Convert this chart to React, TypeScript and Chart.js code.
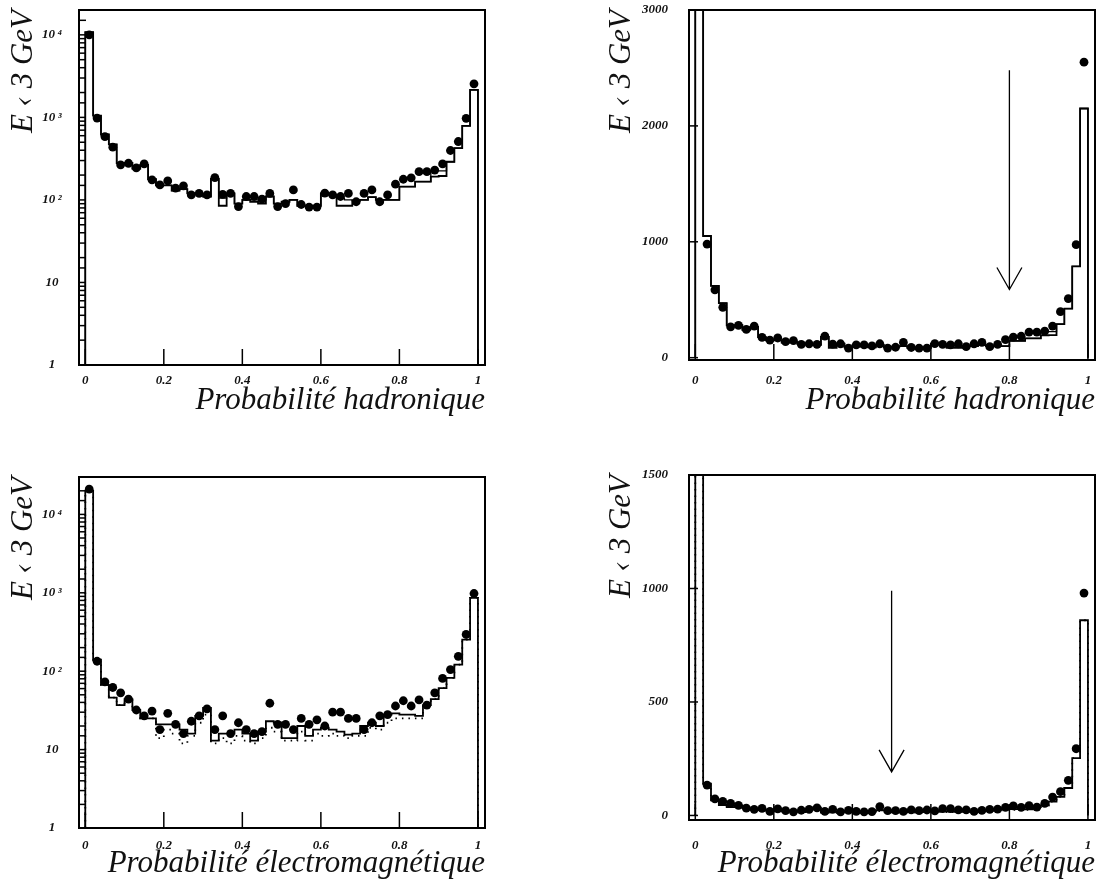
import React, { useEffect, useRef } from 'react';
import { Chart, registerables } from 'chart.js';

Chart.register(...registerables);

// ---------- data ----------
const BIN_WIDTH = 0.02;
const binLowEdges: number[] = Array.from({ length: 50 }, (_, i) => +(i * BIN_WIDTH).toFixed(2));

// Hadronic probability, E < 3 GeV : data points (dots)
const hadData = [
  10000, 980, 586, 435, 266, 278, 244, 273, 175, 152,
  170, 139, 148, 115, 120, 115, 186, 117, 120, 83,
  110, 110, 102, 120, 83, 90, 132, 88, 82, 82,
  121, 115, 110, 120, 95, 120, 132, 95, 115, 155,
  178, 185, 220, 220, 230, 273, 397, 510, 975, 2550,
];
// Hadronic probability : simulation histogram
const hadMC = [
  10800, 1050, 620, 470, 280, 280, 240, 265, 178, 150,
  150, 130, 135, 120, 118, 110, 180, 85, 120, 90,
  100, 95, 90, 110, 90, 95, 100, 85, 85, 85,
  120, 115, 85, 85, 98, 100, 108, 100, 100, 100,
  145, 145, 167, 167, 192, 195, 290, 424, 788, 2150,
];
// Hadronic probability : second simulation histogram
const hadMC2 = [
  10800, 1050, 620, 470, 280, 280, 240, 265, 178, 150,
  150, 130, 135, 120, 118, 110, 180, 105, 120, 90,
  100, 100, 100, 110, 90, 95, 100, 85, 85, 85,
  120, 115, 105, 100, 98, 100, 108, 100, 100, 100,
  145, 145, 167, 167, 225, 225, 290, 424, 788, 2150,
];

// Electromagnetic probability, E < 3 GeV : data points
const emData = [
  21000, 134, 73, 62, 53, 44, 32, 27, 31, 18,
  29, 21, 16, 23, 27, 33, 18, 27, 16, 22,
  18, 16, 17, 39, 21, 21, 18, 25, 21, 24,
  20, 30, 30, 25, 25, 18, 22, 27, 28, 36,
  42, 36, 43, 37, 53, 81, 105, 155, 294, 980,
];
// Electromagnetic probability : simulation histogram (solid)
const emMC = [
  20000, 140, 67, 46, 37, 44, 32, 25, 25, 21,
  21, 21, 18, 16, 27, 34, 13, 16, 16, 18,
  16, 13, 17, 23, 22, 14, 14, 20, 15, 18,
  19, 18, 17, 15.5, 16, 20, 22, 20, 28, 29,
  28, 28, 27, 37, 44, 61, 82, 121, 253, 860,
];
// Electromagnetic probability : second simulation histogram (dotted)
const emMCdot = [
  20000, 140, 67, 46, 37, 44, 32, 25, 25, 14,
  18, 16, 12, 15, 22, 28, 12, 14, 12, 15,
  13, 12, 14, 19, 17, 13, 13, 17, 13, 16,
  15, 16, 15, 14, 15, 15, 19, 18, 22, 25,
  25, 25, 25, 37, 44, 61, 82, 121, 253, 860,
];

const xTickValues = [0, 0.2, 0.4, 0.6, 0.8, 1];
const hadLinTicks = [0, 1000, 2000, 3000];
const emLinTicks = [0, 500, 1000, 1500];
const logRange = [1, 20000];
const logRangeEm = [1, 30000];
const hadLinRange = [-20, 3000];
const emLinRange = [-20, 1500];
const xRange = [-0.016, 1.018];

// arrows: [x, from y, to y]
const hadArrow = [0.8, 2480, 588];
const emArrow = [0.5, 990, 192];

const titleHad = 'Probabilité hadronique';
const titleEm = 'Probabilité électromagnétique';
const yTitle = 'E ‹ 3 GeV';

// ---------- helpers ----------
const SERIF = "'Liberation Serif', 'Times New Roman', serif";
const supDigits: Record<number, string> = { 2: '²', 3: '³', 4: '⁴', 5: '⁵' };

function histPoints(vals: number[], floor: number) {
  const pts: { x: number; y: number }[] = [{ x: 0, y: floor }];
  vals.forEach((v, i) => pts.push({ x: binLowEdges[i], y: v }));
  pts.push({ x: 1, y: vals[vals.length - 1] });
  pts.push({ x: 1, y: floor });
  return pts;
}
function dotPoints(vals: number[]) {
  return vals.map((v, i) => ({ x: binLowEdges[i] + BIN_WIDTH / 2, y: v }));
}

const framePlugin = {
  id: 'frame',
  afterDatasetsDraw(chart: any, _args: any, opts: any) {
    const { ctx, chartArea: a, scales } = chart;
    ctx.save();
    ctx.strokeStyle = '#000';
    ctx.lineWidth = 1.5;
    const ys = scales.y;
    ys.ticks.forEach((t: any) => {
      const py = ys.getPixelForValue(t.value);
      if (py < a.top - 0.5 || py > a.bottom + 0.5) return;
      ctx.beginPath();
      ctx.moveTo(a.left, py);
      ctx.lineTo(a.left + opts.yTickLen, py);
      ctx.stroke();
    });
    const xs = scales.x;
    xs.ticks.forEach((t: any) => {
      const px = xs.getPixelForValue(t.value);
      ctx.beginPath();
      ctx.moveTo(px, a.bottom);
      ctx.lineTo(px, a.bottom - opts.xTickLen);
      ctx.stroke();
    });
    ctx.lineWidth = 2;
    ctx.strokeRect(a.left, a.top, a.right - a.left, a.bottom - a.top);
    ctx.restore();
  },
};

const arrowPlugin = {
  id: 'arrow',
  afterDatasetsDraw(chart: any, _args: any, opts: any) {
    if (!opts || !opts.arrow) return;
    const [ax, from, to] = opts.arrow;
    const { ctx, scales } = chart;
    const px = scales.x.getPixelForValue(ax);
    const p1 = scales.y.getPixelForValue(from);
    const p2 = scales.y.getPixelForValue(to);
    ctx.save();
    ctx.strokeStyle = '#000';
    ctx.lineWidth = 1.3;
    ctx.beginPath();
    ctx.moveTo(px, p1);
    ctx.lineTo(px, p2);
    ctx.moveTo(px - 12.5, p2 - 22);
    ctx.lineTo(px, p2);
    ctx.lineTo(px + 12.5, p2 - 22);
    ctx.stroke();
    ctx.restore();
  },
};

type PanelCfg = {
  left: number; top: number; width: number; height: number;
  area: { left: number; top: number; right: number; bottom: number };
  log: boolean; yRange: number[]; yTicks?: number[];
  data: number[]; mc: number[]; mc2: number[]; mc2Dashed: boolean;
  xTitle: string; arrow?: number[];
  xTickPad: number; xTitlePadBottom: number;
  yTickPad: number; yTitlePadTop: number; yTickLen: number; yCross: 'center' | 'near';
};

function buildConfig(c: PanelCfg): any {
  const floor = c.log ? c.yRange[0] : 0;
  const tickFont = { family: SERIF, size: 13, style: 'italic' as const, weight: 'bold' as const };
  const titleFont = { family: SERIF, size: 31, style: 'italic' as const, weight: 'normal' as const };
  return {
    type: 'line',
    data: {
      datasets: [
        {
          type: 'line', data: histPoints(c.mc2, floor), stepped: true,
          borderColor: '#000', borderWidth: c.mc2Dashed ? 1.8 : 1.3,
          borderDash: c.mc2Dashed ? [1.5, 5] : [], pointRadius: 0, fill: false, order: 3,
        },
        {
          type: 'line', data: histPoints(c.mc, floor), stepped: true,
          borderColor: '#000', borderWidth: 1.8, pointRadius: 0, fill: false, order: 2,
        },
        {
          type: 'scatter', data: dotPoints(c.data), pointRadius: 4.4,
          backgroundColor: '#000', borderColor: '#000', borderWidth: 0, showLine: false, order: 1,
        },
      ],
    },
    options: {
      responsive: false,
      animation: false,
      devicePixelRatio: 1,
      layout: { padding: { left: 0, top: c.area.top - c.top, right: c.left + c.width - c.area.right, bottom: 0 } },
      plugins: {
        legend: { display: false },
        tooltip: { enabled: false },
        frame: { yTickLen: c.yTickLen, xTickLen: 16 },
        arrow: { arrow: c.arrow },
      },
      scales: {
        x: {
          type: 'linear', min: xRange[0], max: xRange[1],
          afterBuildTicks: (s: any) => { s.ticks = xTickValues.map((v) => ({ value: v })); },
          afterFit: (s: any) => {
            s.height = c.top + c.height - c.area.bottom;
            s.paddingLeft = 0; s.paddingRight = 0; s.paddingTop = 0; s.paddingBottom = 0;
          },
          grid: { display: false, drawTicks: false },
          border: { display: false },
          ticks: {
            padding: c.xTickPad, font: tickFont, color: '#111', maxRotation: 0, autoSkip: false,
            callback: (v: number) => (v === 0 ? '0' : v === 1 ? '1' : v.toFixed(1)),
          },
          title: {
            display: true, text: c.xTitle, align: 'end', font: titleFont, color: '#111',
            padding: { top: 0, bottom: c.xTitlePadBottom },
          },
        },
        y: {
          type: c.log ? 'logarithmic' : 'linear', min: c.yRange[0], max: c.yRange[1],
          afterBuildTicks: c.log ? undefined : (s: any) => { s.ticks = (c.yTicks || []).map((v) => ({ value: v })); },
          afterFit: (s: any) => {
            s.width = c.area.left - c.left;
            s.paddingLeft = 0; s.paddingRight = 0; s.paddingTop = 0; s.paddingBottom = 0;
          },
          grid: { display: false, drawTicks: false },
          border: { display: false },
          ticks: {
            padding: c.yTickPad, font: tickFont, color: '#111', autoSkip: false, crossAlign: c.yCross,
            callback: (v: number) => {
              if (!c.log) return String(v);
              const e = Math.log10(v);
              if (Math.abs(e - Math.round(e)) > 1e-9) return '';
              const k = Math.round(e);
              if (k === 0) return '1';
              if (k === 1) return '10';
              return '10\u2009' + (supDigits[k] || String(k));
            },
          },
          title: {
            display: true, text: yTitle, align: 'end', font: titleFont, color: '#111',
            padding: { top: c.yTitlePadTop, bottom: 0 },
          },
        },
      },
    },
    plugins: [framePlugin, arrowPlugin],
  };
}

const panels: PanelCfg[] = [
  {
    left: 0, top: 0, width: 545, height: 430,
    area: { left: 79, top: 10, right: 485, bottom: 365 },
    log: true, yRange: logRange,
    data: hadData, mc: hadMC, mc2: hadMC2, mc2Dashed: false, xTitle: titleHad,
    xTickPad: 8, xTitlePadBottom: 10.4, yTickPad: 17, yTitlePadTop: 5.4, yTickLen: 7, yCross: 'center',
  },
  {
    left: 560, top: 0, width: 540, height: 430,
    area: { left: 689, top: 10, right: 1095, bottom: 360 },
    log: false, yRange: hadLinRange, yTicks: hadLinTicks,
    data: hadData, mc: hadMC, mc2: hadMC2, mc2Dashed: false, xTitle: titleHad, arrow: hadArrow,
    xTickPad: 13, xTitlePadBottom: 10.4, yTickPad: 21, yTitlePadTop: 43, yTickLen: 9, yCross: 'near',
  },
  {
    left: 0, top: 440, width: 545, height: 443,
    area: { left: 79, top: 477, right: 485, bottom: 828 },
    log: true, yRange: logRangeEm,
    data: emData, mc: emMC, mc2: emMCdot, mc2Dashed: true, xTitle: titleEm,
    xTickPad: 10, xTitlePadBottom: 0.4, yTickPad: 17, yTitlePadTop: 5.4, yTickLen: 7, yCross: 'center',
  },
  {
    left: 560, top: 440, width: 540, height: 443,
    area: { left: 689, top: 475, right: 1095, bottom: 820 },
    log: false, yRange: emLinRange, yTicks: emLinTicks,
    data: emData, mc: emMC, mc2: emMCdot, mc2Dashed: true, xTitle: titleEm, arrow: emArrow,
    xTickPad: 18, xTitlePadBottom: 0.4, yTickPad: 21, yTitlePadTop: 43, yTickLen: 9, yCross: 'near',
  },
];

function Panel({ cfg }: { cfg: PanelCfg }) {
  const ref = useRef<HTMLCanvasElement>(null);
  useEffect(() => {
    if (!ref.current) return;
    const chart = new Chart(ref.current, buildConfig(cfg));
    return () => chart.destroy();
  }, [cfg]);
  return (
    <canvas
      ref={ref}
      width={cfg.width}
      height={cfg.height}
      style={{ position: 'absolute', left: cfg.left, top: cfg.top, width: cfg.width, height: cfg.height, display: 'block' }}
    />
  );
}

export default function App() {
  return (
    <div style={{ position: 'absolute', left: 0, top: 0, width: 1100, height: 883, background: '#fff', overflow: 'hidden' }}>
      {panels.map((p, i) => (
        <Panel key={i} cfg={p} />
      ))}
    </div>
  );
}
